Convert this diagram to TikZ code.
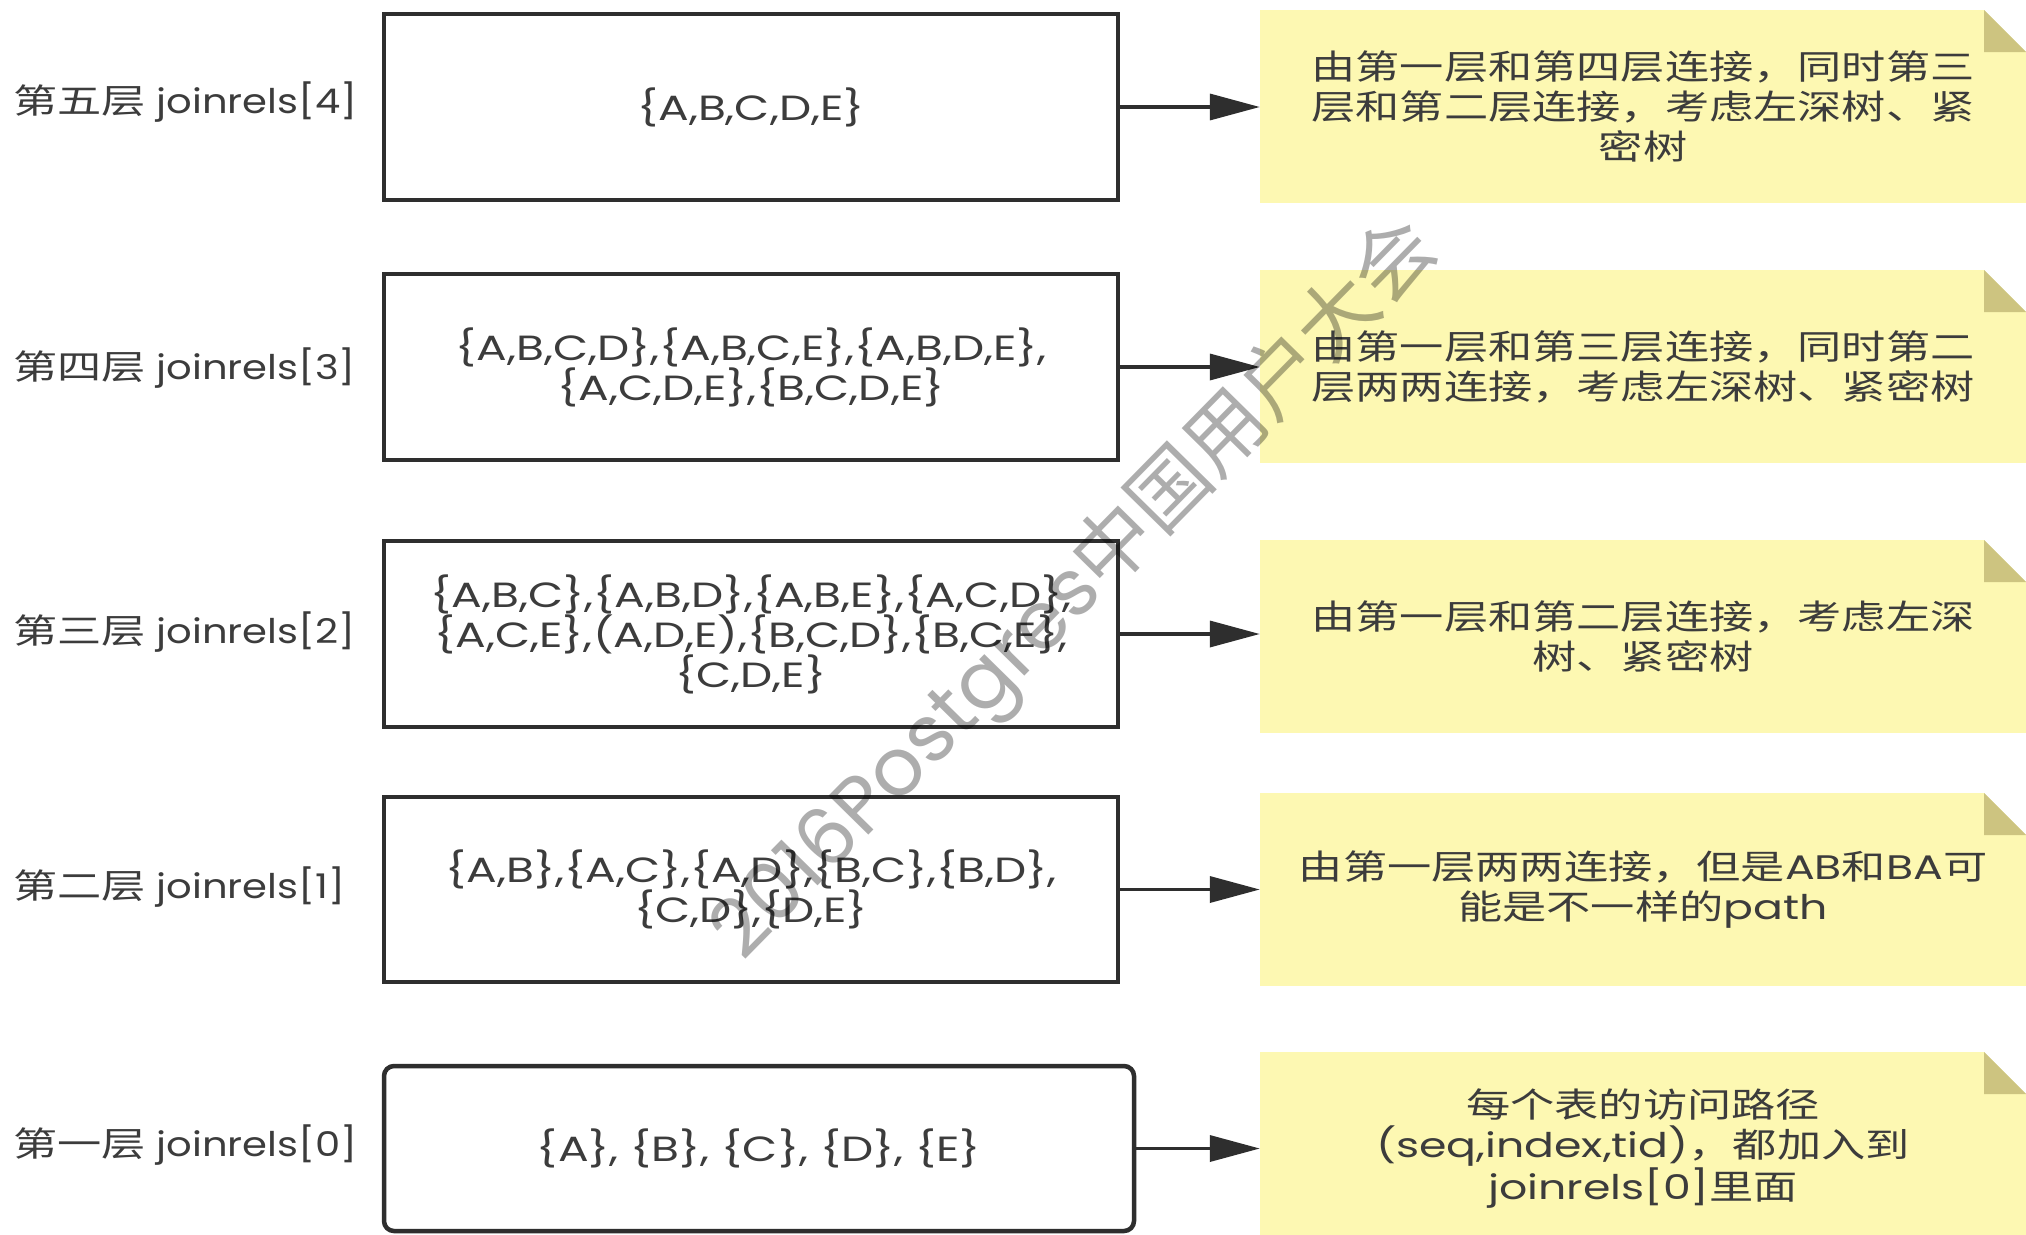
\documentclass[tikz,border=0pt]{standalone}
\usepackage{fontspec}
\usetikzlibrary{arrows.meta}
\setmainfont{Poppins}[FakeStretch=1.3]
\newfontfamily\cjk{Noto Sans CJK SC}[FakeStretch=1.3]
\newfontfamily\lbllat{Poppins}[FakeStretch=1.18]
\newfontfamily\wmlat{Poppins}
\newfontfamily\wmcjk{Noto Sans CJK SC}
\newcommand\zh[1]{{\cjk #1}}
\definecolor{boxc}{HTML}{2E2E2E}
\definecolor{txt}{HTML}{3C3C3C}
\definecolor{notey}{HTML}{FDF8B2}
\definecolor{foldc}{HTML}{CDC480}
\definecolor{arrc}{HTML}{2E2E2E}
\tikzset{
  mainfont/.style={font={\fontsize{34pt}{40pt}\selectfont}},
  lbl/.style={font={\fontsize{34pt}{40pt}\selectfont\lbllat}, anchor=west, text=txt, inner sep=0pt},
  stagebox/.style={font={\fontsize{35pt}{40pt}\selectfont}, draw=boxc, line width=4.5pt, minimum width=734pt,
    minimum height=186pt, align=center, text=txt, inner sep=0pt},
  notebox/.style={mainfont, rectangle, fill=notey, minimum width=766pt,
    minimum height=193pt, align=center, text=txt, inner sep=0pt,
    path picture={
      \fill[white] ([xshift=-42pt]path picture bounding box.north east)
        -- ([xshift=2pt,yshift=2pt]path picture bounding box.north east)
        -- ([yshift=-42pt]path picture bounding box.north east) -- cycle;
      \fill[foldc] ([xshift=-42pt]path picture bounding box.north east)
        -- ([xshift=-42pt,yshift=-42pt]path picture bounding box.north east)
        -- ([yshift=-42pt]path picture bounding box.north east) -- cycle;
    }},
  conn/.style={draw=arrc, line width=3.5pt, -{Triangle[length=50pt,width=26pt]}},
  wmark/.style={text=black, text opacity=0.32, inner sep=0pt}
}
\begin{document}
\begin{tikzpicture}[x=1pt,y=-1pt]
\fill[white] (0,0) rectangle (2026,1234);
\useasboundingbox (0,0) rectangle (2026,1234);

% stage boxes
\node[stagebox] (b5) at (751,107) {\raisebox{4pt}{\{A,B,C,D,E\}}};
\node[stagebox] (b4) at (751,367) {\{A,B,C,D\},\{A,B,C,E\},\{A,B,D,E\},\\\{A,C,D,E\},\{B,C,D,E\}};
\node[stagebox] (b3) at (751,634) {\{A,B,C\},\{A,B,D\},\{A,B,E\},\{A,C,D\},\\\{A,C,E\},(A,D,E),\{B,C,D\},\{B,C,E\},\\\{C,D,E\}};
\node[stagebox, minimum height=185pt] (b2) at (751,889.5) {\{A,B\},\{A,C\},\{A,D\},\{B,C\},\{B,D\},\\\{C,D\},\{D,E\}};
\node[stagebox, minimum width=750pt, minimum height=165pt, rounded corners=10pt] (b1) at (759,1148.5) {\{A\}, \{B\}, \{C\}, \{D\}, \{E\}};

% left labels
\node[lbl] (l5) at (13,102) {\zh{第五层} joinrels[4]};
\node[lbl] (l4) at (13,368) {\zh{第四层} joinrels[3]};
\node[lbl] (l3) at (13,632) {\zh{第三层} joinrels[2]};
\node[lbl] (l2) at (13,887) {\zh{第二层} joinrels[1]};
\node[lbl] (l1) at (13,1145) {\zh{第一层} joinrels[0]};

% notes
\node[notebox] (n5) at (1643,106.5) {\zh{由第一层和第四层连接，同时第三}\\\zh{层和第二层连接，考虑左深树、紧}\\\zh{密树}};
\node[notebox] (n4) at (1643,366.5) {\zh{由第一层和第三层连接，同时第二}\\\zh{层两两连接，考虑左深树、紧密树}};
\node[notebox] (n3) at (1643,636.5) {\zh{由第一层和第二层连接，考虑左深}\\\zh{树、紧密树}};
\node[notebox] (n2) at (1643,889.5) {\zh{由第一层两两连接，但是}AB\zh{和}BA\zh{可}\\\zh{能是不一样的}path};
\node[notebox] (n1) at (1643,1148.5) {\zh{每个表的访问路径}\\(seq,index,tid)\zh{，都加入到}\\joinrels[0]\zh{里面}};

% connectors
\draw[conn] (b5.east) -- (b5.east -| n5.west);
\draw[conn] (b4.east) -- (b4.east -| n4.west);
\draw[conn] (b3.east) -- (b3.east -| n3.west);
\draw[conn] (b2.east) -- (b2.east -| n2.west);
\draw[conn] (b1.east) -- (b1.east -| n1.west);

% watermark
\node[wmark, rotate=45.5, font={\fontsize{80pt}{84pt}\selectfont}] (wm) at (1076,591) {\wmlat 2016Postgres\wmcjk 中国用户大会};
\end{tikzpicture}
\end{document}
